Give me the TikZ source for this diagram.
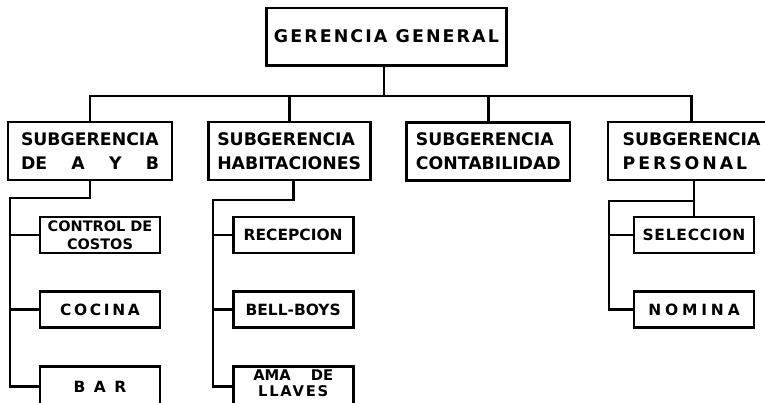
\documentclass[tikz,border=0pt]{standalone}
\usepackage{fontspec}
\setmainfont{DejaVu Sans}
\usepackage{tikz}
\usetikzlibrary{positioning}
\newcommand{\espaciar}[2]{{\addfontfeature{LetterSpace=#1}#2}}

\begin{document}
\begin{tikzpicture}[node distance=0.9cm, line width=2.1pt]
      \tikzstyle{cajaGeneral} = [rectangle, draw=black, minimum width=6cm, minimum height=1.43cm, font=\bfseries\fontsize{12.4}{14}\selectfont]
      \tikzstyle{cajaSub} = [rectangle, draw=black, minimum height=1.45cm, align=left, inner xsep=3pt, font=\bfseries\fontsize{12.3}{17}\selectfont]
      \tikzstyle{cajaDepto} = [rectangle, draw=black, minimum width=3cm, minimum height=0.9cm, inner sep=1pt, align=center, font=\bfseries\fontsize{11}{13}\selectfont]
      \tikzstyle{letraChica} = [font=\bfseries\fontsize{10.3}{12.5}\selectfont]
      \tikzstyle{linea} = [draw=black, line width=2.1pt]

      \useasboundingbox (0,0) rectangle (19.125,10.075);
      \clip (0,0) rectangle (19.125,10.075);

      % Definición de nodos
      \node at (9.66,9.16) [cajaGeneral] (gerencia) {\espaciar{12}{GERENCIA GENERAL}};
      \node at (2.25,6.3) [cajaSub, minimum width=4.1cm] (subAyB) {SUBGERENCIA\\\hbox to 3.45cm{DE\hfill A\hfill Y\hfill B}};
      \node at (7.23,6.3) [cajaSub, minimum width=4.05cm] (subHab) {SUBGERENCIA\\HABITACIONES};
      \node at (12.21,6.29) [cajaSub, minimum width=4.08cm] (subCont) {SUBGERENCIA\\CONTABILIDAD};
      \node at (17.29,6.3) [cajaSub, minimum width=4.18cm] (subPers) {SUBGERENCIA\\\espaciar{17}{PERSONAL}};

      \node at (2.5,4.2) [cajaDepto, letraChica] (costos) {CONTROL DE\\COSTOS};
      \node [cajaDepto, below=of costos] (cocina) {\espaciar{17}{COCINA}};
      \node [cajaDepto, below=of cocina, minimum height=1cm] (bar) {\espaciar{55}{BAR}};

      \node at (7.33,4.2) [cajaDepto] (recepcion) {RECEPCION};
      \node [cajaDepto, below=of recepcion] (bellboys) {BELL-BOYS};
      \node [cajaDepto, below=of bellboys, minimum height=1cm, text depth=0.2cm, font=\bfseries\fontsize{10.5}{11.5}\selectfont] (llaves) {AMA\hspace{0.5cm}DE\\\espaciar{12}{LLAVES}};

      \node at (17.35,4.2) [cajaDepto] (seleccion) {\espaciar{5}{SELECCION}};
      \node [cajaDepto, below=of seleccion] (nomina) {\espaciar{25}{NOMINA}};

      \coordinate (bus) at (9.6,7.675);
      \coordinate (troncoAyB) at (0.25,5.125);
      \coordinate (troncoHab) at (5.325,5.075);
      \coordinate (troncoPers) at (15.225,5.05);

      % Conexiones
      \draw [linea] (gerencia.south -| bus) -- (bus);
      \draw [linea] (subAyB.north) |- (bus) -| (subPers.north);
      \draw [linea] (subHab.north) -- (subHab.north |- bus);
      \draw [linea] (subCont.north) -- (subCont.north |- bus);

      \draw [linea] (subAyB.south) |- (troncoAyB) |- (bar.west);
      \draw [linea] (troncoAyB |- costos.west) -- (costos.west);
      \draw [linea] (troncoAyB |- cocina.west) -- (cocina.west);

      \draw [linea] (recepcion.north |- subHab.south) |- (troncoHab) |- (llaves.west);
      \draw [linea] (troncoHab |- recepcion.west) -- (recepcion.west);
      \draw [linea] (troncoHab |- bellboys.west) -- (bellboys.west);

      \draw [linea] (seleccion.north |- subPers.south) -- (seleccion.north);
      \draw [linea] (seleccion.north |- troncoPers) -- (troncoPers) |- (nomina.west);
      \draw [linea] (troncoPers |- seleccion.west) -- (seleccion.west);

    \end{tikzpicture}
\end{document}
